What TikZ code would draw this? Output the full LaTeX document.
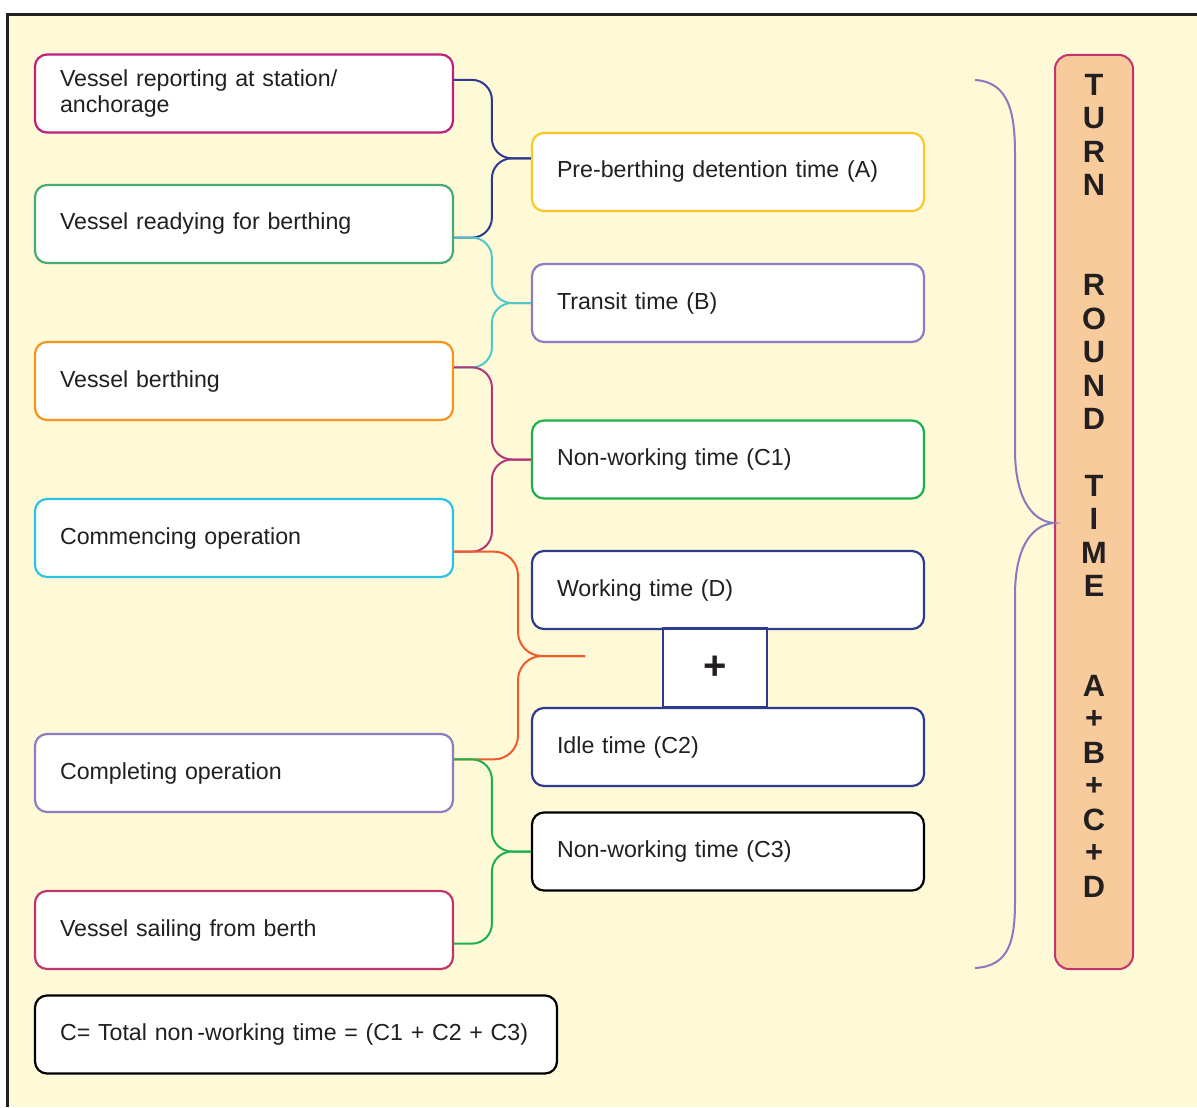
\documentclass[tikz,border=0pt]{standalone}
\usepackage{fontspec}
\setmainfont{Liberation Sans}
\usetikzlibrary{calc}

\definecolor{bgyellow}{HTML}{FEF9D7}
\definecolor{framec}{HTML}{231F20}
\definecolor{txt}{HTML}{231F20}
\definecolor{repc}{HTML}{BE1E7C}
\definecolor{readyc}{HTML}{4BAA74}
\definecolor{berthc}{HTML}{F7941D}
\definecolor{commc}{HTML}{2BC4E4}
\definecolor{complc}{HTML}{8E7CC3}
\definecolor{sailc}{HTML}{C0356D}
\definecolor{prec}{HTML}{FFC629}
\definecolor{nwc}{HTML}{1DB04C}
\definecolor{navyc}{HTML}{2E3A8F}
\definecolor{tealc}{HTML}{52C7C7}
\definecolor{magc}{HTML}{B2367A}
\definecolor{orangec}{HTML}{F15A2B}
\definecolor{bracec}{HTML}{8C78BE}
\definecolor{peach}{HTML}{F7CB9B}

\tikzset{
  stepbox/.style={draw, fill=white, rounded corners=6pt, line width=1.1pt,
    minimum height=39pt, text width=184pt, inner xsep=12.5pt, align=left,
    text=txt, font=\fontsize{11.6}{13}\selectfont},
  timebox/.style={stepbox, text width=171pt},
  link/.style={line width=1pt, rounded corners=10pt},
}

\begin{document}
\begin{tikzpicture}[x=0.5pt, y=-0.5pt]
    \useasboundingbox (0,0) rectangle (1197,1107);
    % background and frame
    \fill[bgyellow] (7,15) rectangle (1197,1107);
    \draw[framec, line width=1.5pt] (7,1107) -- (7,15) -- (1197,15);

    % events of the call
    \node[stepbox, draw=repc]   (rep)   at (244,93.5) {Vessel reporting at station/\\anchorage};
    \node[stepbox, draw=readyc] (ready) at (244,224)  {Vessel readying for berthing};
    \node[stepbox, draw=berthc] (berth) at (244,381)  {Vessel berthing};
    \node[stepbox, draw=commc]  (comm)  at (244,538)  {Commencing operation};
    \node[stepbox, draw=complc] (compl) at (244,773)  {Completing operation};
    \node[stepbox, draw=sailc]  (sail)  at (244,930)  {Vessel sailing from berth};

    % time components
    \node[timebox, draw=prec]   (pre)  at (728,172)   {Pre-berthing detention time (A)};
    \node[timebox, draw=complc] (tra)  at (728,303)   {Transit time (B)};
    \node[timebox, draw=nwc]    (nwa)  at (728,459.5) {Non-working time (C1)};
    \node[timebox, draw=navyc]  (work) at (728,590)   {Working time (D)};
    \node[draw=navyc, fill=white, line width=1.1pt, minimum width=52pt, minimum height=39.5pt,
          font=\fontsize{20}{22}\selectfont\bfseries, text=txt] (plus) at (715,668) {+};
    \node[timebox, draw=navyc]  (idle) at (728,747)   {Idle time (C2)};
    \node[timebox, draw=black]  (nwb)  at (728,851.5) {Non-working time (C3)};

    \node[stepbox, draw=black, text width=236pt] (total) at (296,1034.5)
        {C= Total non\kern2pt-working time = (C1 + C2 + C3)};

    % connectors
    \draw[link, navyc] ($(rep.north east)!.33!(rep.south east)$) -| ([xshift=-19.5pt]$(pre.north west)!.33!(pre.south west)$) -- ($(pre.north west)!.33!(pre.south west)$);
    \draw[link, navyc] ($(ready.north east)!.67!(ready.south east)$) -| ([xshift=-19.5pt]$(pre.north west)!.33!(pre.south west)$) -- ($(pre.north west)!.33!(pre.south west)$);
    \draw[link, tealc] ($(ready.north east)!.67!(ready.south east)$) -| ([xshift=-19.5pt]tra.west) -- (tra.west);
    \draw[link, tealc] ($(berth.north east)!.33!(berth.south east)$) -| ([xshift=-19.5pt]tra.west) -- (tra.west);
    \draw[link, magc] ($(berth.north east)!.33!(berth.south east)$) -| ([xshift=-19.5pt]nwa.west) -- (nwa.west);
    \draw[link, magc] ($(comm.north east)!.67!(comm.south east)$) -| ([xshift=-19.5pt]nwa.west) -- (nwa.west);
    \coordinate (sum) at (585,656);
    \draw[link, orangec, rounded corners=12pt] ($(comm.north east)!.67!(comm.south east)$) -| ([xshift=-33.5pt]sum) -- (sum);
    \draw[link, orangec, rounded corners=12pt] ($(compl.north east)!.33!(compl.south east)$) -| ([xshift=-33.5pt]sum) -- (sum);
    \draw[link, nwc] ($(compl.north east)!.33!(compl.south east)$) -| ([xshift=-19.5pt]nwb.west) -- (nwb.west);
    \draw[link, nwc] ($(sail.north east)!.67!(sail.south east)$) -| ([xshift=-19.5pt]nwb.west) -- (nwb.west);

    % turn round time
    \node[draw=sailc, fill=peach, rounded corners=7pt, line width=1pt,
          minimum width=39pt, minimum height=457pt] (trt) at (1094,512) {};
    \foreach \ch [count=\i] in {T,U,R,N,,,R,O,U,N,D,,T,I,M,E,,,A,+,B,+,C,+,D}
        \node[text=txt, font=\fontsize{15.4}{16}\selectfont\bfseries, inner sep=0pt]
            (trt\i) at (1094,{85+(\i-1)*33.4}) {\ch};
    \coordinate (tip) at ([yshift=-5.5pt]trt.west);
    \draw[bracec, line width=1pt] (975,80) .. controls (1010,82) and (1015,115) .. (1015,155)
        -- (1015,450) .. controls (1015,495) and (1030,521) .. (tip)
        .. controls (1030,525) and (1015,550) .. (1015,595)
        -- (1015,900) .. controls (1015,940) and (1010,966) .. (975,968);
\end{tikzpicture}
\end{document}
